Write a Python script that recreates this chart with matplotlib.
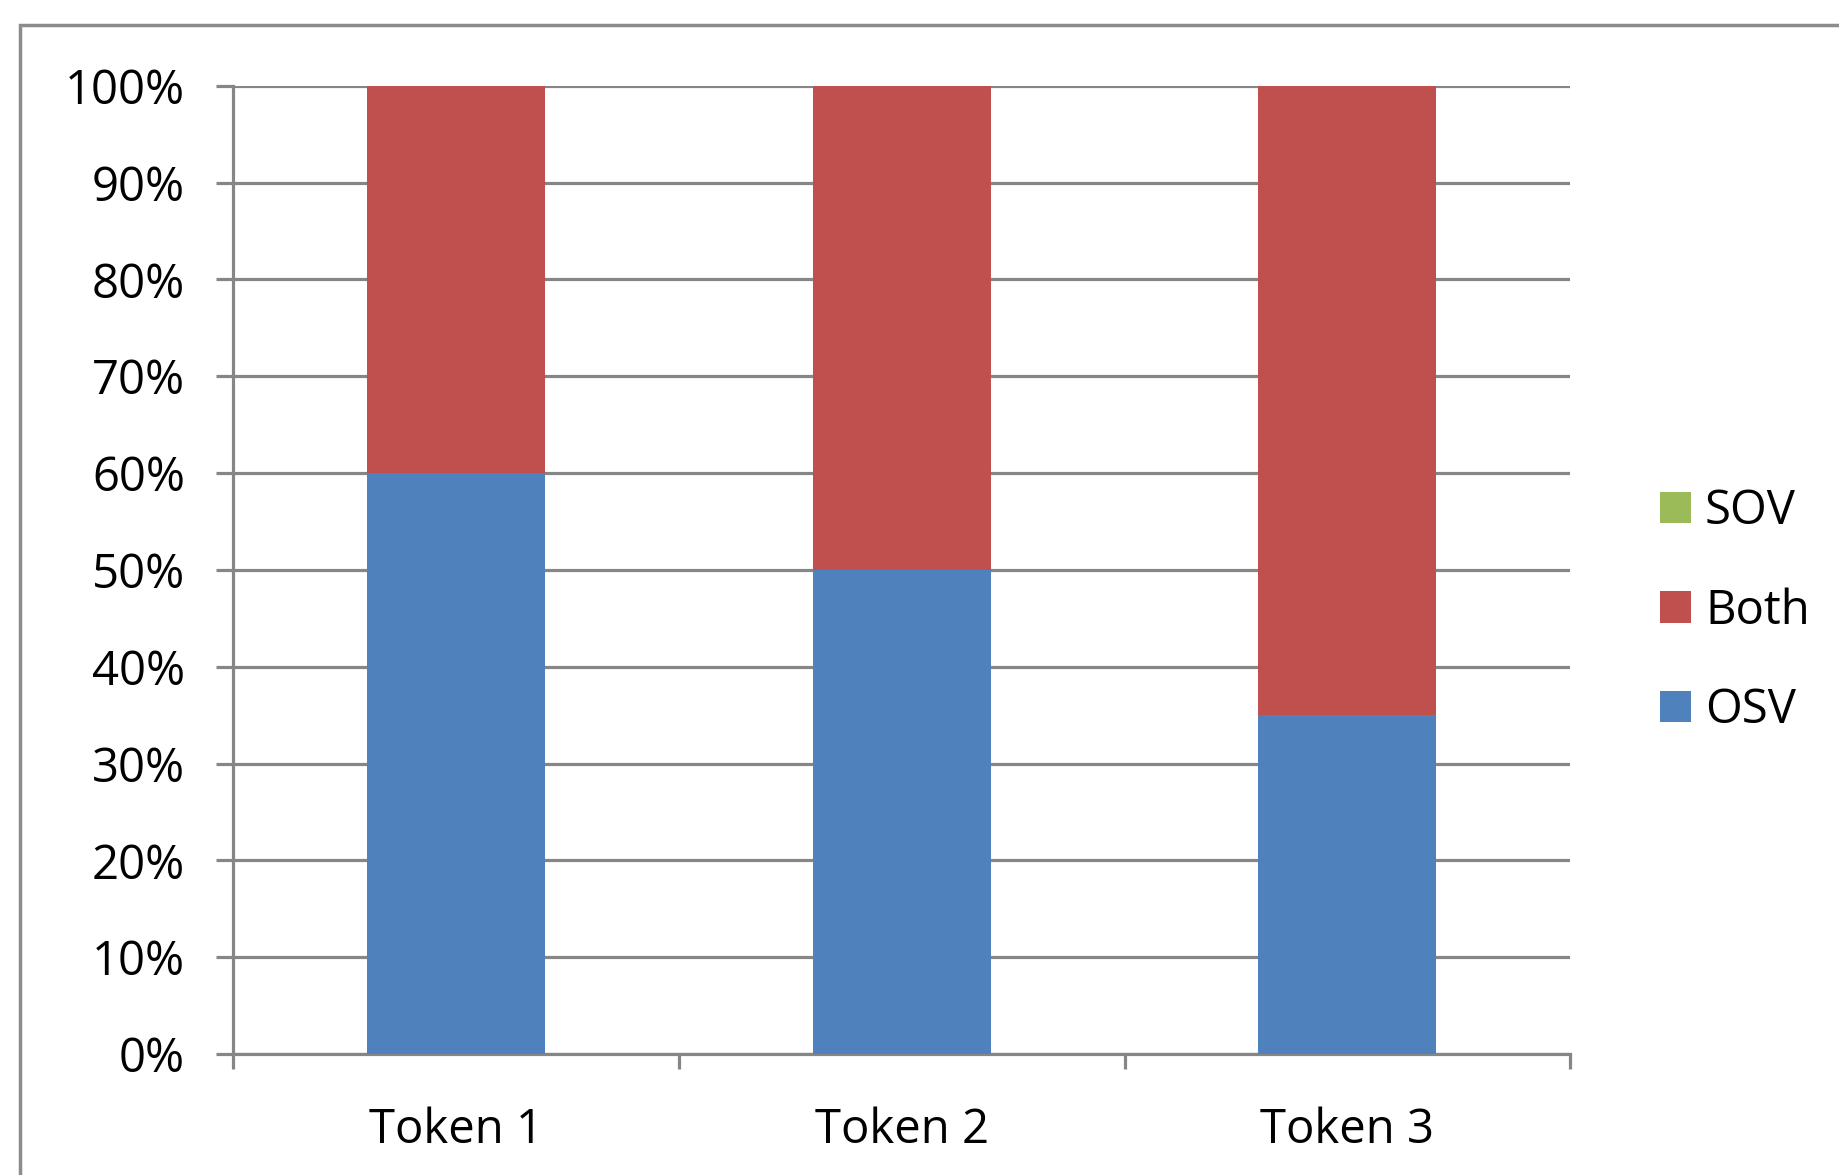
import matplotlib
matplotlib.use('Agg')
import matplotlib.pyplot as plt
import matplotlib.patches as patches
import numpy as np
from matplotlib.ticker import PercentFormatter

plt.rcParams['font.family'] = ['Open Sans', 'DejaVu Sans']

# data
tokens = ['Token 1', 'Token 2', 'Token 3']
osv = [60, 50, 35]
both = [40, 50, 65]
sov = [0, 0, 0]

c_osv = '#4F81BD'
c_both = '#C0504D'
c_sov = '#9BBB59'
grid_c = '#868686'

fig = plt.figure(figsize=(18.4, 11.75), dpi=100)
ax = fig.add_axes([0.1269, 0.103, 0.7264, 0.824])

x = np.arange(len(tokens))
w = 0.40
b1 = ax.bar(x, osv, w, color=c_osv, label='OSV', zorder=3)
b2 = ax.bar(x, both, w, bottom=osv, color=c_both, label='Both', zorder=3)
bottom3 = np.array(osv) + np.array(both)
b3 = ax.bar(x, sov, w, bottom=bottom3, color=c_sov, label='SOV', zorder=3)

ax.set_xlim(-0.5, len(tokens) - 0.5)
ax.set_ylim(0, 100)
ax.set_yticks(np.arange(0, 101, 10))
ax.yaxis.set_major_formatter(PercentFormatter(decimals=0))
ax.yaxis.grid(True, color=grid_c, linewidth=2.3, zorder=0)
ax.set_axisbelow(True)

# category boundary ticks on x axis, labels centred under the bars
ax.set_xticks(np.arange(-0.5, len(tokens), 1.0))
ax.set_xticklabels([])
ax.set_xticks(x, minor=True)
ax.set_xticklabels(tokens, minor=True)
ax.tick_params(axis='x', which='major', length=11, width=2.3, color=grid_c, direction='out')
ax.tick_params(axis='x', which='minor', length=0, pad=38, labelsize=34)
ax.tick_params(axis='y', length=12, width=2.3, color=grid_c, pad=23, labelsize=34)

for s in ['top', 'right']:
    ax.spines[s].set_visible(False)
ax.spines['left'].set_color(grid_c)
ax.spines['left'].set_linewidth(2.3)
ax.spines['bottom'].set_color(grid_c)
ax.spines['bottom'].set_linewidth(2.3)

leg = fig.legend([b3, b2, b1], ['SOV', 'Both', 'OSV'], loc='center left',
                 bbox_to_anchor=(0.892, 0.480), frameon=False, fontsize=34,
                 handlelength=0.65, handleheight=0.65, handletextpad=0.3,
                 labelspacing=1.1, borderaxespad=0)

# outer chart border
fig.patches.append(patches.Rectangle((0.0109, -0.1), 1.2, 1.0787, transform=fig.transFigure,
                                     fill=False, edgecolor='#8c8c8c', linewidth=2.5))

fig.savefig('out.png', dpi=100)
